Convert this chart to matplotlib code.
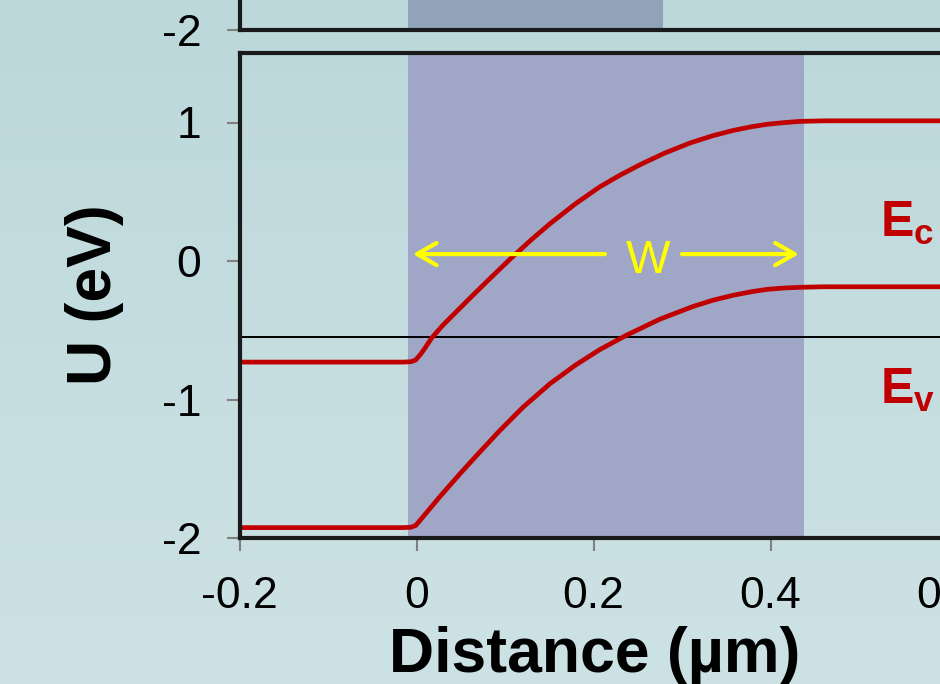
import numpy as np
import matplotlib
matplotlib.use("Agg")
import matplotlib.pyplot as plt

plt.rcParams['font.family'] = ['Liberation Sans', 'DejaVu Sans']
plt.rcParams['mathtext.fontset'] = 'custom'
plt.rcParams['mathtext.rm'] = 'Liberation Sans'
plt.rcParams['mathtext.bf'] = 'Liberation Sans:bold'

# band edges (distance in um, energy in eV)
x_ec = [-0.2, -0.015, -0.006, -0.001, 0.005, 0.01, 0.017, 0.03, 0.057, 0.08,
        0.106, 0.13, 0.151, 0.18, 0.207, 0.23, 0.2525, 0.28, 0.309, 0.335,
        0.358, 0.38, 0.396, 0.415, 0.433, 0.46, 0.8]
ec = [-0.73, -0.73, -0.727, -0.715, -0.67, -0.625, -0.557, -0.462, -0.29, -0.145,
      0.015, 0.155, 0.27, 0.415, 0.535, 0.62, 0.695, 0.778, 0.852, 0.905,
      0.943, 0.971, 0.987, 0.999, 1.008, 1.012, 1.012]

x_ev = [-0.2, -0.015, -0.006, -0.001, 0.005, 0.0266, 0.05, 0.07, 0.094, 0.12,
        0.151, 0.18, 0.207, 0.2375, 0.275, 0.313, 0.335, 0.358, 0.38, 0.396,
        0.415, 0.433, 0.46, 0.8]
ev = [-1.925, -1.925, -1.922, -1.91, -1.865, -1.70, -1.53, -1.39, -1.225, -1.058,
      -0.885, -0.75, -0.64, -0.535, -0.42, -0.327, -0.283, -0.247, -0.22, -0.205,
      -0.195, -0.19, -0.186, -0.186]

fermi = -0.55
depl = (-0.01, 0.438)        # shaded depletion region, main panel
depl_top = (-0.01, 0.278)    # shaded region of the panel above
w_left = (0.213, -0.004)     # arrow tail, tip
w_right = (0.30, 0.432)
w_y = 0.05

xticks = [-0.2, 0, 0.2, 0.4, 0.6, 0.8]
xlabels = ['-0.2', '0', '0.2', '0.4', '0.6', '0.8']
yticks = [-2, -1, 0, 1]
ylabels = ['-2', '-1', '0', '1']

red = '#c00000'
W, H = 940, 684
fig = plt.figure(figsize=(9.4, 6.84), dpi=100)

# gradient background
bg = fig.add_axes([0, 0, 1, 1])
bg.set_zorder(-1)
grad = np.linspace(0, 1, 256).reshape(-1, 1)
cmap = matplotlib.colors.LinearSegmentedColormap.from_list('bg', ['#bcd8db', '#cde2e4'])
bg.imshow(grad, aspect='auto', cmap=cmap, extent=[0, 1, 0, 1], origin='upper')
bg.axis('off')

x0, x1 = -0.2, 0.8
px_per_x = 885.0
left = 239.5 / W
width = (x1 - x0) * px_per_x / W


def style(ax):
    ax.set_facecolor('none')
    for s in ax.spines.values():
        s.set_color('#1a1a1a')
        s.set_linewidth(3)
    ax.tick_params(direction='out', length=9.5, width=1.5, color='#808080',
                   labelsize=32, pad=18)


# panel above (only its bottom is visible)
top_bottom = 1 - 30 / H
axt = fig.add_axes([left, top_bottom, width, 484.75 / H])
style(axt)
axt.set_xlim(x0, x1)
axt.set_ylim(-2, 1.5)
axt.axvspan(depl_top[0], depl_top[1], color='#90a3b9', lw=0)
axt.set_xticks([])
axt.set_yticks(yticks[:1])
axt.set_yticklabels(ylabels[:1])

# main panel
ax = fig.add_axes([left, 1 - 538 / H, width, 484.75 / H])
style(ax)
ax.set_xlim(x0, x1)
ax.set_ylim(-2, 1.5)
ax.axvspan(depl[0], depl[1], color='#a0a6c6', lw=0)
ax.axhline(fermi, color='black', lw=1.4)
ax.plot(x_ec, ec, color=red, lw=3.4, solid_joinstyle='round')
ax.plot(x_ev, ev, color=red, lw=3.4, solid_joinstyle='round')
ax.set_xticks(xticks)
ax.set_xticklabels(xlabels)
ax.set_yticks(yticks)
ax.set_yticklabels(ylabels)

arrow = dict(arrowstyle='->,head_length=0.7,head_width=0.4', color='#ffff00',
             lw=3, mutation_scale=20, shrinkA=0, shrinkB=0)
ax.annotate('', xy=(w_left[1], w_y), xytext=(w_left[0], w_y), arrowprops=arrow)
ax.annotate('', xy=(w_right[1], w_y), xytext=(w_right[0], w_y), arrowprops=arrow)
ax.text(0.2616, 0.0, 'W', color='#ffff00', fontsize=34, ha='center', va='center')

ax.text(0.524, 0.173, r'$\mathbf{E_c}$', color=red, fontsize=36, va='baseline')
ax.text(0.524, -1.03, r'$\mathbf{E_v}$', color=red, fontsize=36, va='baseline')

fig.text(94 / W, 1 - 295 / H, 'U (eV)', rotation=90, fontsize=45,
         fontweight='bold', ha='center', va='center')
fig.text(595 / W, 1 - 672 / H, 'Distance (µm)', fontsize=45,
         fontweight='bold', ha='center', va='baseline')

fig.savefig('out.png', dpi=100)
